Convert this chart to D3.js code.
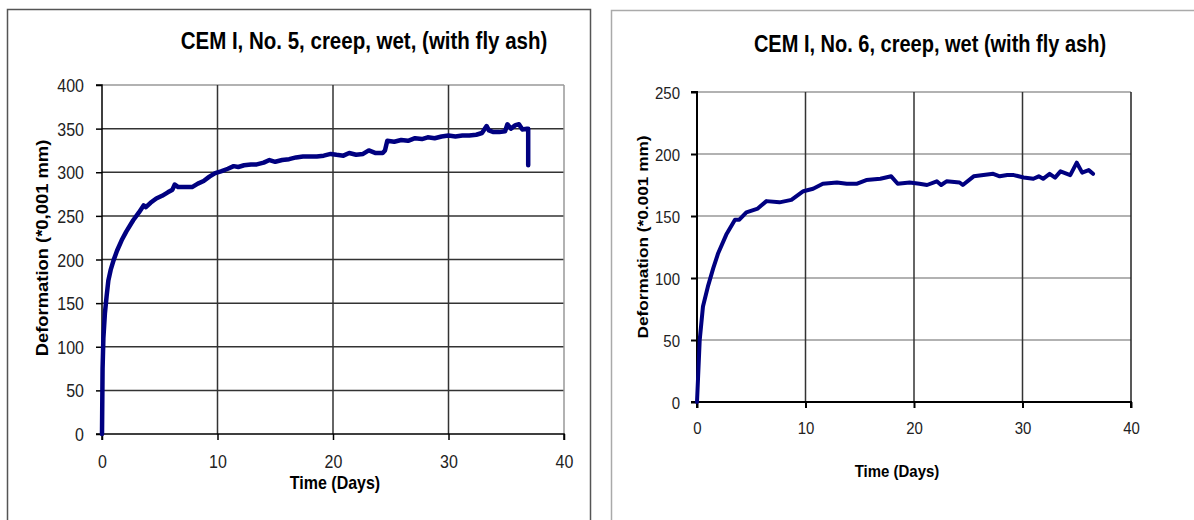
<!DOCTYPE html>
<html>
<head>
<meta charset="utf-8">
<script src="https://cdn.jsdelivr.net/npm/d3@7"></script>
<style>
  body { margin: 0; background: #fff; }
  svg { display: block; font-family: Arial, "Liberation Sans", sans-serif; }
</style>
</head>
<body>
<svg id="chart" width="1194" height="520"></svg>
<script>
// ---- data ----
// specimen No. 5
const days5 = [0, 0.05, 0.12, 0.25, 0.4, 0.55, 0.75, 1.0, 1.3, 1.7, 2.1, 2.7, 3.2, 3.6, 3.8, 4.2, 4.7, 5.2, 5.7, 6.1,
  6.3, 6.6, 7.2, 7.8, 8.3, 8.8, 9.3, 9.8, 10.3, 10.9, 11.4, 11.8, 12.3, 12.9, 13.4, 14.0, 14.5, 15.0, 15.6, 16.2,
  16.8, 17.4, 18.0, 18.6, 19.2, 19.8, 20.3, 20.9, 21.4, 22.0, 22.6, 23.1, 23.7, 24.3, 24.5, 24.7, 25.3, 25.9, 26.5,
  27.1, 27.7, 28.2, 28.8, 29.4, 30.0, 30.6, 31.2, 31.8, 32.4, 32.9, 33.3, 33.5, 33.9, 34.4, 34.9, 35.1, 35.4, 35.8,
  36.1, 36.4, 36.8, 36.9, 36.9];
const deform5 = [0, 75, 110, 138, 158, 176, 188, 199, 210, 222, 232, 245, 254, 262, 260, 265, 270, 273, 277, 280,
  286, 283, 283, 283, 287, 290, 295, 299, 301, 304, 307, 306, 308, 309, 309, 311, 314, 312, 314, 315,
  317, 318, 318, 318, 319, 321, 320, 319, 322, 320, 321, 325, 322, 322, 325, 336, 335, 337, 336,
  339, 338, 340, 339, 341, 342, 341, 342, 342, 343, 345, 353, 348, 346, 346, 347, 355, 350, 354,
  355, 349, 350, 350, 308];

// specimen No. 6
const days6 = [0, 0.25, 0.55, 1.0, 1.5, 1.95, 2.7, 3.5, 3.9, 4.55, 4.9, 5.6, 6.4, 7.6, 8.7, 9.8, 10.7, 11.6, 12.9,
  13.8, 14.7, 15.6, 16.9, 17.9, 18.5, 19.6, 20.5, 21.2, 22.1, 22.5, 23.0, 24.2, 24.5, 25.5, 26.4, 27.3, 27.9, 28.6,
  29.2, 30.1, 31.0, 31.5, 31.9, 32.5, 33.0, 33.5, 34.4, 35.0, 35.5, 36.1, 36.5];
const deform6 = [0, 50, 77, 93, 108, 120, 135, 147, 147, 153, 154, 156, 162, 161, 163, 170, 172, 176, 177,
  176, 176, 179, 180, 182, 176, 177, 176, 175, 178, 175, 178, 177, 175, 182, 183, 184, 182, 183,
  183, 181, 180, 182, 180, 184, 181, 186, 183, 193, 185, 187, 184];

const xTicks = [0, 10, 20, 30, 40];
const yTicks5 = [0, 50, 100, 150, 200, 250, 300, 350, 400];
const yTicks6 = [0, 50, 100, 150, 200, 250];

const STRETCH = 1.15;  // the original picture is a bit taller than wide
const svg = d3.select('#chart');

// outer chart borders
svg.append('rect')
  .attr('x', 7.5).attr('y', 9.5).attr('width', 583).attr('height', 530)
  .attr('fill', 'none').attr('stroke', '#555').attr('stroke-width', 1.5);
svg.append('rect')
  .attr('x', 611.5).attr('y', 10.5).attr('width', 600).attr('height', 530)
  .attr('fill', 'none').attr('stroke', '#aaa').attr('stroke-width', 1.5);

function drawPanel(opt) {
  const x = d3.scaleLinear().domain([0, 40]).range([opt.left, opt.right]);
  const y = d3.scaleLinear().domain([0, opt.yMax]).range([opt.bottom, opt.top]);
  const g = svg.append('g');

  // horizontal grid
  g.selectAll('.hgrid').data(opt.yTicks.slice(1)).join('line')
    .attr('x1', opt.left).attr('x2', opt.right)
    .attr('y1', d => y(d)).attr('y2', d => y(d))
    .attr('stroke', d => d === opt.yMax ? '#999' : opt.hGrid)
    .attr('stroke-width', 1.5);
  // vertical grid
  g.selectAll('.vgrid').data(xTicks.slice(1)).join('line')
    .attr('x1', d => x(d)).attr('x2', d => x(d))
    .attr('y1', opt.top).attr('y2', opt.bottom)
    .attr('stroke', d => d === 40 ? opt.rightEdge : '#333')
    .attr('stroke-width', 1.5);

  // axes
  const yAxis = g.append('g')
    .attr('transform', `translate(${opt.left},0)`)
    .call(d3.axisLeft(y).tickValues(opt.yTicks).tickSize(6));
  const xAxis = g.append('g')
    .attr('transform', `translate(0,${opt.bottom})`)
    .call(d3.axisBottom(x).tickValues(xTicks).tickSize(6));
  [yAxis, xAxis].forEach(a => {
    a.select('.domain').attr('stroke', '#000').attr('stroke-width', opt.axisW);
    a.selectAll('.tick line').attr('stroke', '#000').attr('stroke-width', opt.axisW);
    a.selectAll('.tick text')
      .attr('fill', '#222')
      .attr('dy', null).attr('x', 0).attr('y', 0)
      .style('font-size', opt.tickFont + 'px')
      .style('font-family', 'Arial, "Liberation Sans", sans-serif');
  });
  yAxis.selectAll('.tick text')
    .attr('transform', `translate(${-opt.yPad},${opt.tickFont * 0.36 * STRETCH}) scale(1,${STRETCH})`);
  xAxis.selectAll('.tick text')
    .attr('transform', `translate(0,${opt.xBase}) scale(1,${STRETCH})`);
  yAxis.select('.domain').attr('d', `M-6,${opt.top}H0V${opt.bottom}H-6`);
  xAxis.select('.domain').attr('d', `M${opt.left},6V0H${opt.right}V6`);

  // curve
  const pts = opt.days.map((d, i) => [d, opt.values[i]]);
  g.append('path')
    .datum(pts)
    .attr('fill', 'none')
    .attr('stroke', '#000080')
    .attr('stroke-width', opt.lineW)
    .attr('stroke-linejoin', 'round')
    .attr('stroke-linecap', 'round')
    .attr('d', d3.line().x(d => x(d[0])).y(d => y(d[1])));

  // titles
  g.append('text')
    .attr('transform', `translate(${opt.titleX},${opt.titleY}) scale(1,${STRETCH})`)
    .attr('text-anchor', 'middle')
    .style('font-size', opt.titleFont + 'px').style('font-weight', 'bold')
    .text(opt.title);
  g.append('text')
    .attr('transform', `translate(${opt.xLabelX},${opt.xLabelY}) scale(1,${STRETCH})`)
    .attr('text-anchor', 'middle')
    .style('font-size', opt.labelFont + 'px').style('font-weight', 'bold')
    .text('Time (Days)');
  g.append('text')
    .attr('transform', `translate(${opt.yLabelX},${opt.yLabelY}) scale(1,${STRETCH}) rotate(-90)`)
    .attr('text-anchor', 'middle')
    .style('font-size', opt.labelFont + 'px').style('font-weight', 'bold')
    .text(opt.yLabel);
}

drawPanel({
  days: days5, values: deform5, yMax: 400, yTicks: yTicks5,
  left: 102, right: 564, top: 85, bottom: 434,
  hGrid: '#333', rightEdge: '#999', axisW: 1.5, lineW: 4.5,
  tickFont: 16, yPad: 18, xBase: 34,
  title: 'CEM I, No. 5, creep, wet, (with fly ash)', titleX: 364, titleY: 49, titleFont: 20.5,
  labelFont: 16, xLabelX: 335, xLabelY: 489,
  yLabel: 'Deformation (*0,001 mm)', yLabelX: 48, yLabelY: 248
});

drawPanel({
  days: days6, values: deform6, yMax: 250, yTicks: yTicks6,
  left: 697, right: 1131, top: 92, bottom: 402,
  hGrid: '#999', rightEdge: '#222', axisW: 2, lineW: 4,
  tickFont: 15, yPad: 17, xBase: 32,
  title: 'CEM I, No. 6, creep, wet (with fly ash)', titleX: 930, titleY: 52, titleFont: 20,
  labelFont: 15, xLabelX: 897, xLabelY: 477,
  yLabel: 'Deformation (*0.001 mm)', yLabelX: 648, yLabelY: 237
});
</script>
</body>
</html>
